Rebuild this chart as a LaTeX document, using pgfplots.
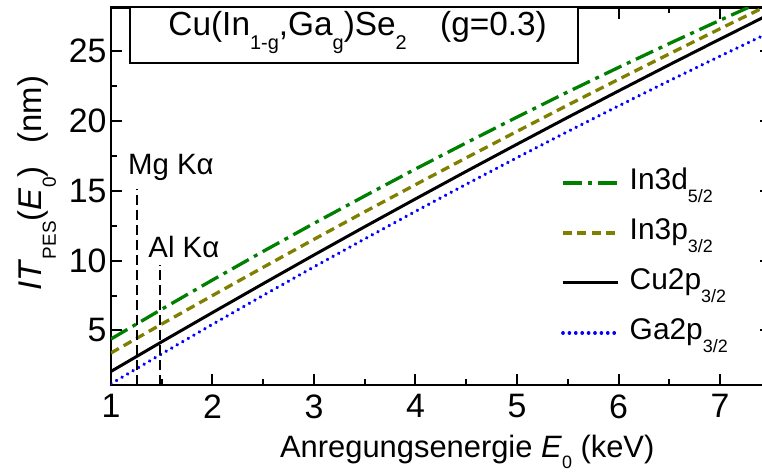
\documentclass[border=0pt]{standalone}
\usepackage{fontspec}
\setmainfont{Liberation Sans}
\usepackage{pgfplots}
\usepackage{pgfplotstable}
\pgfplotsset{compat=1.18}

% low-set, smaller subscript
\newcommand{\lo}[2][18]{\raisebox{-0.42em}{\fontsize{#1}{#1}\selectfont #2}}
\newcommand{\tickfont}{\fontsize{34}{40}\selectfont}

\definecolor{cgreen}{RGB}{0,128,0}
\definecolor{colive}{RGB}{128,128,0}
\definecolor{cblue}{RGB}{0,0,255}

% information depth (nm) versus excitation energy (keV)
\pgfplotstableread{
E    In3d   In3p   Cu2p   Ga2p
1.0  4.39   3.39   2.07   1.19
1.5  6.52   5.46   4.19   3.33
2.0  8.61   7.50   6.28   5.44
2.5  10.66  9.52   8.35   7.51
3.0  12.66  11.52  10.40  9.55
3.5  14.62  13.49  12.42  11.55
4.0  16.55  15.43  14.41  13.52
4.5  18.42  17.35  16.38  15.46
5.0  20.26  19.24  18.32  17.36
5.5  22.06  21.12  20.24  19.23
6.0  23.81  22.96  22.13  21.06
6.5  25.52  24.78  24.00  22.86
7.0  27.19  26.58  25.84  24.62
7.5  28.82  28.35  27.66  26.35
}\depthdata

\begin{document}
\begin{tikzpicture}
\useasboundingbox (-111bp,-90bp) rectangle (651bp,385bp);
\begin{axis}[
  at={(0,0)}, anchor=south west,
  scale only axis, width=659.75bp, height=377.5bp,
  xmin=1, xmax=7.5, ymin=1.1, ymax=28.1,
  xtick={1,2,...,7}, minor x tick num=1,
  ytick={5,10,...,25}, minor y tick num=1,
  tick align=inside,
  major tick length=11bp, minor tick length=6bp,
  axis line style={line width=2.5bp},
  every tick/.style={line width=2bp, black},
  /pgf/number format/assume math mode=true,
  xticklabel={\tickfont\pgfmathprintnumber{\tick}},
  yticklabel={\tickfont\pgfmathprintnumber{\tick}},
  xticklabel style={yshift=-6bp},
  yticklabel style={xshift=-1bp},
  label style={font=\fontsize{31}{36}\selectfont},
  xlabel={Anregungsenergie \textit{E}\raisebox{-0.36em}{\fontsize{18}{18}\selectfont 0} (keV)},
  xlabel style={at={(rel axis cs:0.54,0)}, anchor=base, inner sep=0pt, yshift=-72bp},
  ylabel={\fontsize{33}{38}\selectfont\textit{IT}\lo[19]{PES}(\textit{E}\lo[19]{0})\hspace{0.7em}(nm)},
  ylabel style={at={(rel axis cs:-0.1046,0.535)}, anchor=base, inner sep=0pt},
  legend cell align=left,
  legend image code/.code={\draw[#1] (0bp,7bp) -- (55bp,7bp);},
  legend style={draw=none, fill=none, at={(axis cs:5.433,16.85)}, anchor=north west,
    font=\fontsize{30}{36}\selectfont, inner sep=0pt, row sep=0pt, column sep=10bp,
    nodes={inner sep=0pt, text height=25bp, text depth=25bp}},
]
\addplot[cgreen, line width=3.3bp, dash pattern=on 19bp off 6bp on 4bp off 6bp]
  table[x=E, y=In3d] {\depthdata};
\addlegendentry{In3d\lo{5/2}}
\addplot[colive, line width=3.3bp, dash pattern=on 9bp off 5.5bp]
  table[x=E, y=In3p] {\depthdata};
\addlegendentry{In3p\lo{3/2}}
\addplot[black, line width=3bp]
  table[x=E, y=Cu2p] {\depthdata};
\addlegendentry{Cu2p\lo{3/2}}
\addplot[cblue, line width=3.6bp, line cap=round, dash pattern=on 0.1bp off 6.3bp]
  table[x=E, y=Ga2p] {\depthdata};
\addlegendentry{Ga2p\lo{3/2}}

% X-ray source energies
\addplot[black, line width=1.8bp, dash pattern=on 10bp off 5bp, forget plot]
  coordinates {(1.2536,1.1) (1.2536,15.1)};
\addplot[black, line width=1.8bp, dash pattern=on 10bp off 5bp, forget plot]
  coordinates {(1.4866,1.1) (1.4866,9.7)};
\node[anchor=base west, inner sep=0pt, font=\fontsize{29.5}{36}\selectfont]
  at (axis cs:1.167,16.19) {Mg Kα};
\node[anchor=base west, inner sep=0pt, font=\fontsize{29.5}{36}\selectfont]
  at (axis cs:1.367,10.24) {Al Kα};

% material box
\draw[line width=1.5bp, fill=white] (axis cs:1.187,28.1) rectangle (axis cs:5.60,24.14);
\node[font=\fontsize{33.5}{40}\selectfont, inner sep=0pt] at (axis cs:3.43,26.3)
  {Cu(In\lo[20]{1-g},Ga\lo[20]{g})Se\lo[20]{2}\hspace{1em}(g=0.3)};
\end{axis}
\end{tikzpicture}
\end{document}
